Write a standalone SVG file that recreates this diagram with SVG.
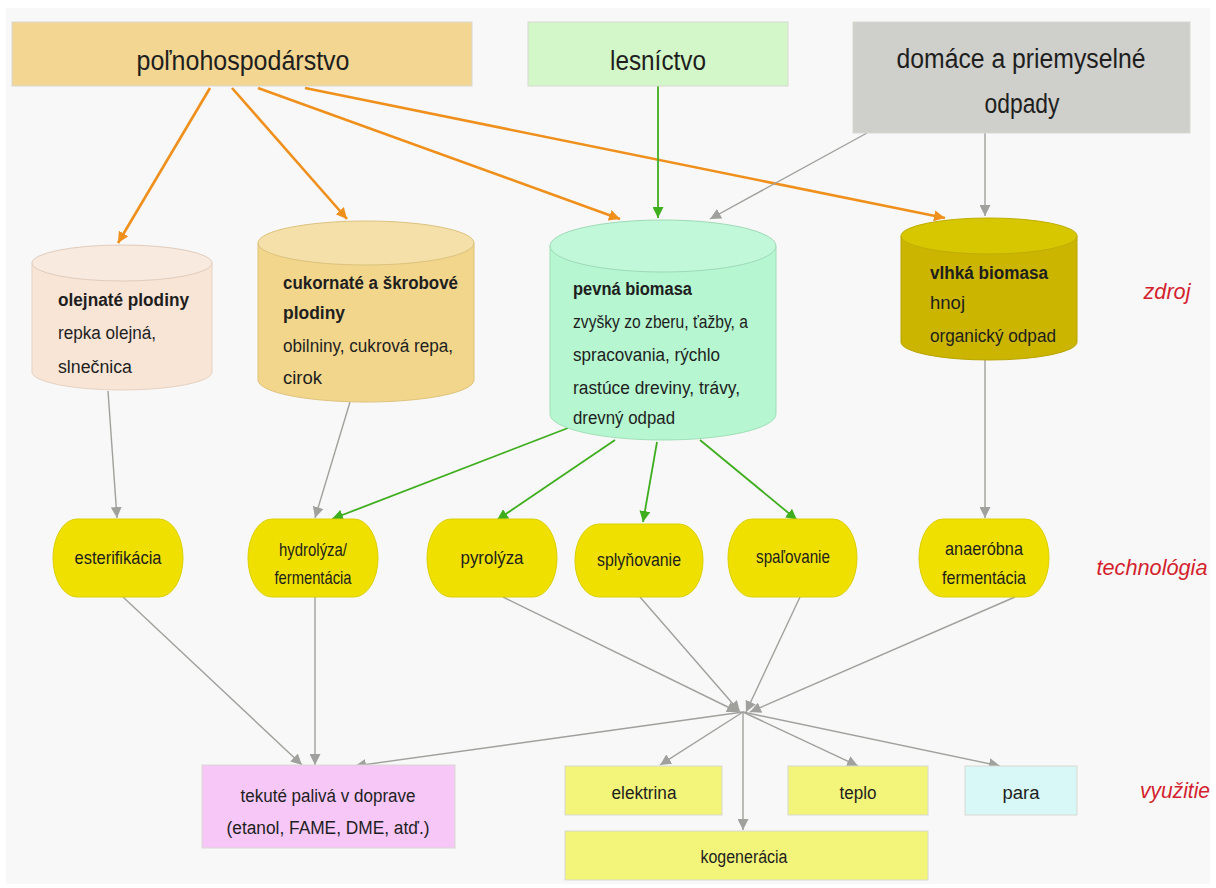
<svg xmlns="http://www.w3.org/2000/svg" width="1216" height="888" viewBox="0 0 1216 888">
<defs>
<style>
text{font-family:"Liberation Sans",Arial,sans-serif;fill:#1e1e1e}
.t27{font-size:27px}
.t18{font-size:18px}
.t19{font-size:19px}
.b{font-weight:bold}
.red{font-size:22px;font-style:italic;fill:#d41f2e}
.box{stroke:#d8d8d0;stroke-width:1}
.cyl{stroke-width:1}
.tech{fill:#efe000;stroke:#dcd000;stroke-width:1}
.or{stroke:#f0901c;stroke-width:2.6;fill:none}
.gr{stroke:#3fae1e;stroke-width:1.8;fill:none}
.gy{stroke:#a0a09c;stroke-width:1.4;fill:none}
</style>
<marker id="ao" viewBox="0 0 10 10" refX="10" refY="5" markerWidth="11" markerHeight="11" markerUnits="userSpaceOnUse" orient="auto"><path d="M0,0 L10,5 L0,10 Z" fill="#f0901c"/></marker>
<marker id="ag" viewBox="0 0 10 10" refX="10" refY="5" markerWidth="11" markerHeight="11" markerUnits="userSpaceOnUse" orient="auto"><path d="M0,0 L10,5 L0,10 Z" fill="#3fae1e"/></marker>
<marker id="ay" viewBox="0 0 10 10" refX="10" refY="5" markerWidth="11" markerHeight="11" markerUnits="userSpaceOnUse" orient="auto"><path d="M0,0 L10,5 L0,10 Z" fill="#a0a09c"/></marker>
</defs>
<rect x="0" y="0" width="1216" height="888" fill="#ffffff"/>
<rect x="6" y="8" width="1204" height="876" fill="#f8f8f8"/>

<g id="connectors">
<line class="or" x1="210" y1="88" x2="118" y2="243" marker-end="url(#ao)"/>
<line class="or" x1="232" y1="88" x2="347" y2="219" marker-end="url(#ao)"/>
<line class="or" x1="258" y1="88" x2="620" y2="219" marker-end="url(#ao)"/>
<line class="or" x1="305" y1="88" x2="945" y2="218" marker-end="url(#ao)"/>
<line class="gr" x1="658" y1="86" x2="658" y2="218" marker-end="url(#ag)"/>
<line class="gy" x1="867" y1="133" x2="710" y2="219" marker-end="url(#ay)"/>
<line class="gy" x1="985" y1="133" x2="985" y2="216" marker-end="url(#ay)"/>
<line class="gy" x1="108" y1="391" x2="117" y2="518" marker-end="url(#ay)"/>
<line class="gy" x1="350" y1="402" x2="315" y2="518" marker-end="url(#ay)"/>
<line class="gy" x1="985" y1="360" x2="985" y2="518" marker-end="url(#ay)"/>
<line class="gr" x1="568" y1="428" x2="332" y2="519" marker-end="url(#ag)"/>
<line class="gr" x1="615" y1="440" x2="497" y2="520" marker-end="url(#ag)"/>
<line class="gr" x1="657" y1="442" x2="643" y2="522" marker-end="url(#ag)"/>
<line class="gr" x1="700" y1="440" x2="797" y2="520" marker-end="url(#ag)"/>
<line class="gy" x1="123" y1="597" x2="302" y2="765" marker-end="url(#ay)"/>
<line class="gy" x1="315" y1="597" x2="315" y2="765" marker-end="url(#ay)"/>
<line class="gy" x1="503" y1="597" x2="738" y2="712" marker-end="url(#ay)"/>
<line class="gy" x1="640" y1="597" x2="740" y2="712" marker-end="url(#ay)"/>
<line class="gy" x1="800" y1="597" x2="746" y2="712" marker-end="url(#ay)"/>
<line class="gy" x1="1015" y1="597" x2="750" y2="712" marker-end="url(#ay)"/>
<line class="gy" x1="743" y1="712" x2="355" y2="766" marker-end="url(#ay)"/>
<line class="gy" x1="743" y1="712" x2="660" y2="765" marker-end="url(#ay)"/>
<line class="gy" x1="743" y1="712" x2="743" y2="830" marker-end="url(#ay)"/>
<line class="gy" x1="743" y1="712" x2="858" y2="766" marker-end="url(#ay)"/>
<line class="gy" x1="743" y1="712" x2="1000" y2="766" marker-end="url(#ay)"/>
</g>

<g id="polnohospodarstvo">
<rect class="box" x="12" y="22" width="460" height="64" fill="#f2d692"/>
<text class="t27" x="243" y="70" text-anchor="middle" textLength="213" lengthAdjust="spacingAndGlyphs">poľnohospodárstvo</text>
</g>
<g id="lesnictvo">
<rect class="box" x="528" y="22" width="260" height="64" fill="#d3f7c8"/>
<text class="t27" x="658" y="70" text-anchor="middle" textLength="96" lengthAdjust="spacingAndGlyphs">lesníctvo</text>
</g>
<g id="odpady">
<rect class="box" x="853" y="22" width="337" height="111" fill="#cfcfcb"/>
<text class="t27" x="1021" y="68" text-anchor="middle" textLength="249" lengthAdjust="spacingAndGlyphs">domáce a priemyselné</text>
<text class="t27" x="1022" y="113" text-anchor="middle" textLength="75" lengthAdjust="spacingAndGlyphs">odpady</text>
</g>

<g id="olejnate">
<path class="cyl" d="M32,263 L32,372 A90,18 0 0 0 212,372 L212,263 Z" fill="#f8e5d6" stroke="#e6d2c2"/>
<ellipse class="cyl" cx="122" cy="263" rx="90" ry="18" fill="#f9eadf" stroke="#e0ccbc"/>
<text class="t18 b" x="58" y="306" textLength="131" lengthAdjust="spacingAndGlyphs">olejnaté plodiny</text>
<text class="t18" x="58" y="339" textLength="98" lengthAdjust="spacingAndGlyphs">repka olejná,</text>
<text class="t18" x="58" y="373" textLength="74" lengthAdjust="spacingAndGlyphs">slnečnica</text>
</g>
<g id="cukornate">
<path class="cyl" d="M258,243 L258,380 A108,22 0 0 0 474,380 L474,243 Z" fill="#f2d68c" stroke="#e0c27a"/>
<ellipse class="cyl" cx="366" cy="243" rx="108" ry="22" fill="#f4e0a8" stroke="#dcc27e"/>
<text class="t18 b" x="283" y="289" textLength="175" lengthAdjust="spacingAndGlyphs">cukornaté a škrobové</text>
<text class="t18 b" x="283" y="319" textLength="62" lengthAdjust="spacingAndGlyphs">plodiny</text>
<text class="t18" x="283" y="352" textLength="170" lengthAdjust="spacingAndGlyphs">obilniny, cukrová repa,</text>
<text class="t18" x="283" y="384" textLength="39" lengthAdjust="spacingAndGlyphs">cirok</text>
</g>
<g id="pevna">
<path class="cyl" d="M550,246 L550,414 A113,26 0 0 0 776,414 L776,246 Z" fill="#b6f6d0" stroke="#a0e0b8"/>
<ellipse class="cyl" cx="663" cy="246" rx="113" ry="26" fill="#c2f8da" stroke="#9edab6"/>
<text class="t18 b" x="573" y="295" textLength="119" lengthAdjust="spacingAndGlyphs">pevná biomasa</text>
<text class="t18" x="573" y="328" textLength="175" lengthAdjust="spacingAndGlyphs">zvyšky zo zberu, ťažby, a</text>
<text class="t18" x="573" y="361" textLength="147" lengthAdjust="spacingAndGlyphs">spracovania, rýchlo</text>
<text class="t18" x="573" y="394" textLength="167" lengthAdjust="spacingAndGlyphs">rastúce dreviny, trávy,</text>
<text class="t18" x="573" y="424" textLength="102" lengthAdjust="spacingAndGlyphs">drevný odpad</text>
</g>
<g id="vlhka">
<path class="cyl" d="M901,236 L901,342 A88,18 0 0 0 1077,342 L1077,236 Z" fill="#cbb500" stroke="#b8a400"/>
<ellipse class="cyl" cx="989" cy="236" rx="88" ry="18" fill="#d7c700" stroke="#bfae00"/>
<text class="t18 b" x="930" y="279" textLength="118" lengthAdjust="spacingAndGlyphs">vlhká biomasa</text>
<text class="t18" x="930" y="309" textLength="35" lengthAdjust="spacingAndGlyphs">hnoj</text>
<text class="t18" x="930" y="342" textLength="126" lengthAdjust="spacingAndGlyphs">organický odpad</text>
</g>

<g id="esterifikacia">
<rect class="tech" x="53" y="519" width="130" height="78" rx="24" ry="39"/>
<text class="t19" x="118" y="564" text-anchor="middle" textLength="87" lengthAdjust="spacingAndGlyphs">esterifikácia</text>
</g>
<g id="hydrolyza">
<rect class="tech" x="248" y="519" width="130" height="78" rx="24" ry="39"/>
<text class="t19" x="313" y="556" text-anchor="middle" textLength="68" lengthAdjust="spacingAndGlyphs">hydrolýza/</text>
<text class="t19" x="313" y="584" text-anchor="middle" textLength="77" lengthAdjust="spacingAndGlyphs">fermentácia</text>
</g>
<g id="pyrolyza">
<rect class="tech" x="427" y="519" width="130" height="78" rx="24" ry="39"/>
<text class="t19" x="492" y="564" text-anchor="middle" textLength="63" lengthAdjust="spacingAndGlyphs">pyrolýza</text>
</g>
<g id="splynovanie">
<rect class="tech" x="575" y="524" width="128" height="73" rx="24" ry="36"/>
<text class="t19" x="639" y="566" text-anchor="middle" textLength="84" lengthAdjust="spacingAndGlyphs">splyňovanie</text>
</g>
<g id="spalovanie">
<rect class="tech" x="728" y="519" width="129" height="78" rx="24" ry="39"/>
<text class="t19" x="793" y="563" text-anchor="middle" textLength="74" lengthAdjust="spacingAndGlyphs">spaľovanie</text>
</g>
<g id="anaerobna">
<rect class="tech" x="919" y="519" width="130" height="78" rx="24" ry="39"/>
<text class="t19" x="984" y="555" text-anchor="middle" textLength="78" lengthAdjust="spacingAndGlyphs">anaeróbna</text>
<text class="t19" x="984" y="584" text-anchor="middle" textLength="84" lengthAdjust="spacingAndGlyphs">fermentácia</text>
</g>

<g id="tekute">
<rect class="box" x="202" y="765" width="253" height="83" fill="#f7c8f7"/>
<text class="t18" x="328" y="802" text-anchor="middle" textLength="175" lengthAdjust="spacingAndGlyphs">tekuté palivá v doprave</text>
<text class="t18" x="328" y="834" text-anchor="middle" textLength="203" lengthAdjust="spacingAndGlyphs">(etanol, FAME, DME, atď.)</text>
</g>
<g id="elektrina">
<rect class="box" x="565" y="766" width="157" height="49" fill="#f3f57a"/>
<text class="t18" x="644" y="799" text-anchor="middle" textLength="65" lengthAdjust="spacingAndGlyphs">elektrina</text>
</g>
<g id="teplo">
<rect class="box" x="788" y="766" width="140" height="49" fill="#f3f57a"/>
<text class="t18" x="858" y="799" text-anchor="middle" textLength="37" lengthAdjust="spacingAndGlyphs">teplo</text>
</g>
<g id="para">
<rect class="box" x="965" y="766" width="112" height="49" fill="#d8f8f8"/>
<text class="t18" x="1021" y="799" text-anchor="middle" textLength="37" lengthAdjust="spacingAndGlyphs">para</text>
</g>
<g id="kogeneracia">
<rect class="box" x="565" y="831" width="363" height="49" fill="#f3f57a"/>
<text class="t18" x="744" y="863" text-anchor="middle" textLength="87" lengthAdjust="spacingAndGlyphs">kogenerácia</text>
</g>

<g id="labels">
<text class="red" x="1167" y="299" text-anchor="middle" textLength="47" lengthAdjust="spacingAndGlyphs">zdroj</text>
<text class="red" x="1152" y="575" text-anchor="middle" textLength="111" lengthAdjust="spacingAndGlyphs">technológia</text>
<text class="red" x="1175" y="798" text-anchor="middle" textLength="70" lengthAdjust="spacingAndGlyphs">využitie</text>
</g>
</svg>
